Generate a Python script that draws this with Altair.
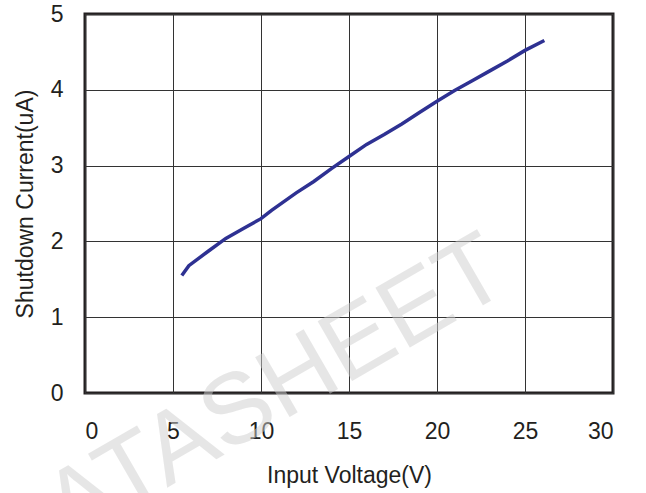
import altair as alt
import pandas as pd

voltage = [5.5, 5.9, 7, 8, 9, 10, 10.6, 12, 13, 14, 15, 16, 17, 18, 19, 20, 21, 22, 23, 24, 25, 26.1]
current = [1.55, 1.68, 1.87, 2.04, 2.17, 2.30, 2.41, 2.64, 2.79, 2.96, 3.12, 3.28, 3.41, 3.55, 3.70, 3.85, 3.99, 4.12, 4.25, 4.38, 4.52, 4.65]
watermark = ["DATASHEET"]

df = pd.DataFrame({"v": voltage, "i": current})
wm = pd.DataFrame({"t": watermark})

FONT = "Liberation Sans"

mark_wm = alt.Chart(wm).mark_text(
    angle=330, fontSize=100, font=FONT, color="#cfcfcf", opacity=0.5,
    align="center", baseline="middle"
).encode(text="t:N", x=alt.value(160), y=alt.value(394))

line = alt.Chart(df).mark_line(color="#2e3192", strokeWidth=3.5).encode(
    x=alt.X("v:Q", scale=alt.Scale(domain=[0, 30], nice=False),
            axis=alt.Axis(values=[0, 5, 10, 15, 20, 25, 30], title="Input Voltage(V)",
                          labelPadding=27, titlePadding=21)),
    y=alt.Y("i:Q", scale=alt.Scale(domain=[0, 5], nice=False),
            axis=alt.Axis(values=[0, 1, 2, 3, 4, 5], title="Shutdown Current(uA)",
                          labelPadding=22, titlePadding=13)),
)

chart = alt.layer(mark_wm, line).properties(
    width=528, height=379,
    autosize=alt.AutoSizeParams(type="none"),
    padding={"left": 85, "top": 14, "right": 33, "bottom": 100},
).configure(
    background="white"
).configure_view(
    stroke="#231f20", strokeWidth=3
).configure_axis(
    domain=False, ticks=False, grid=True, gridColor="#333333", gridWidth=1, gridOpacity=1,
    labelFont=FONT, titleFont=FONT, labelFontSize=23, titleFontSize=23,
    labelColor="#231f20", titleColor="#231f20", titleFontWeight="normal",
)

chart.save("out.html", embed_options={"renderer": "svg", "actions": False})
